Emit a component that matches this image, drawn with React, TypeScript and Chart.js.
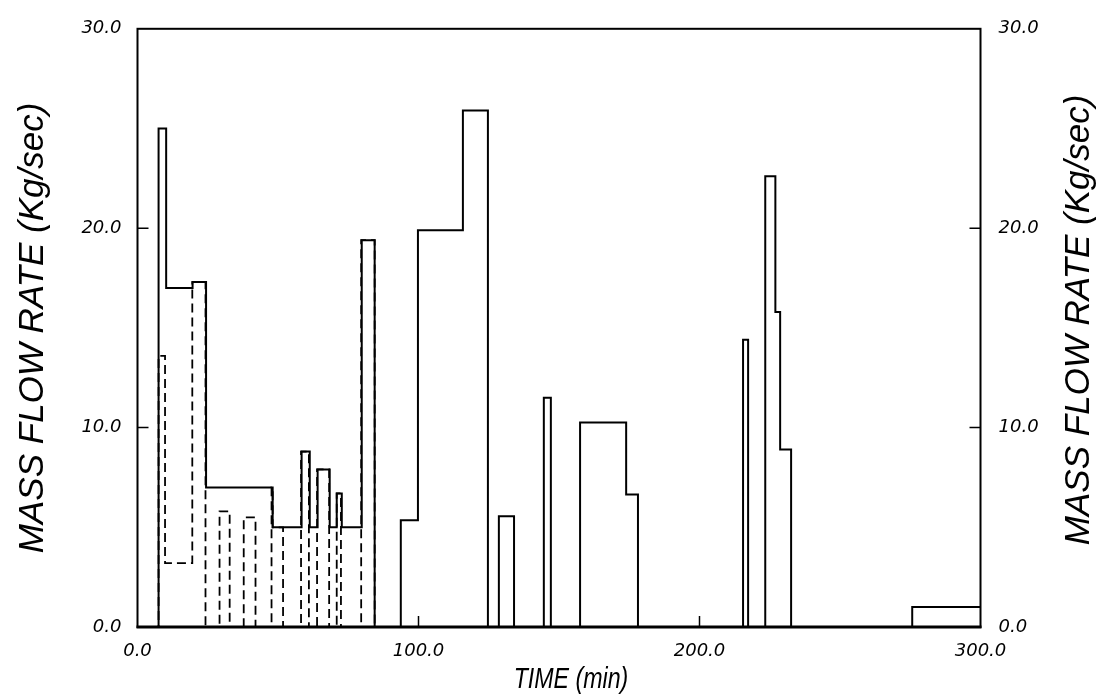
import React, { useEffect, useRef } from "react";
import { Chart, registerables } from "chart.js";

Chart.register(...registerables);

// Solid trace: step starts (min) and flow rate (kg/s) held until the next start
const solidTimes = [0, 7.5, 10.2, 19.6, 24.4, 48.1, 58.4, 61.3, 64.1, 68.4, 70.9, 72.7, 79.8, 84.4, 93.7, 99.8, 115.8, 124.7, 128.6, 134.0, 144.6, 147.1, 157.5, 173.9, 178.1, 215.5, 217.3, 223.4, 227.0, 228.7, 232.6, 275.7, 300];
const solidValues = [0, 25.0, 17.0, 17.3, 7.0, 5.0, 8.8, 5.0, 7.9, 5.0, 6.7, 5.0, 19.4, 0, 5.35, 19.9, 25.9, 0, 5.55, 0, 11.5, 0, 10.25, 6.65, 0, 14.4, 0, 22.6, 15.8, 8.9, 0, 1.0, 1.0];

// Dashed trace
const dashedTimes = [0, 7.5, 9.8, 19.5, 24.2, 29.2, 32.8, 37.8, 42.0, 47.7, 48.1, 51.8, 58.2, 61.0, 63.9, 68.2, 70.9, 72.4, 79.6, 84.4];
const dashedValues = [0, 13.6, 3.2, 17.3, 0, 5.8, 0, 5.5, 0, 7.0, 5.0, 0, 8.8, 0, 7.9, 0, 6.7, 0, 19.4, 0];

const xTicks = [0, 100, 200, 300];
const yTicks = [0, 10, 20, 30];

const xTitle = "TIME (min)";
const yTitle = "MASS FLOW RATE (Kg/sec)";

const tickFont = { family: "'DejaVu Sans', sans-serif", style: "italic" as const, size: 18 };
const titleFamily = "'Liberation Sans', sans-serif";
const yTitleFont = { family: titleFamily, style: "italic" as const, size: 35, lineHeight: 1 };

const framePlugin = {
  id: "frame",
  afterDatasetsDraw(chart: any) {
    const { ctx, chartArea: a, scales } = chart;
    ctx.save();
    ctx.strokeStyle = "#000";
    ctx.lineWidth = 2;
    ctx.strokeRect(a.left, a.top, a.right - a.left, a.bottom - a.top);
    ctx.lineWidth = 3;
    ctx.beginPath();
    ctx.moveTo(a.left - 1, a.bottom);
    ctx.lineTo(a.right + 1, a.bottom);
    ctx.stroke();
    ctx.lineWidth = 1.5;
    yTicks.slice(1, -1).forEach((v) => {
      const y = scales.y.getPixelForValue(v);
      ctx.beginPath();
      ctx.moveTo(a.left, y);
      ctx.lineTo(a.left + 11, y);
      ctx.moveTo(a.right - 11, y);
      ctx.lineTo(a.right, y);
      ctx.stroke();
    });
    xTicks.slice(1, -1).forEach((v) => {
      const x = scales.x.getPixelForValue(v);
      ctx.beginPath();
      ctx.moveTo(x, a.bottom);
      ctx.lineTo(x, a.bottom - 11);
      ctx.stroke();
    });
    ctx.restore();
  },
};

// Titles: right one reads bottom-to-top like the left; x title is condensed like the scan
const titlesPlugin = {
  id: "titles",
  afterDraw(chart: any) {
    const { ctx, chartArea: a, width } = chart;
    ctx.save();
    ctx.fillStyle = "#000";
    ctx.font = `italic ${yTitleFont.size}px ${titleFamily}`;
    ctx.textAlign = "center";
    ctx.textBaseline = "middle";
    ctx.translate(width - 26, (a.top + a.bottom) / 2 - 8);
    ctx.rotate(-Math.PI / 2);
    ctx.fillText(yTitle, 0, 0);
    ctx.restore();

    ctx.save();
    ctx.fillStyle = "#000";
    ctx.font = `italic 29px ${titleFamily}`;
    ctx.textAlign = "center";
    ctx.textBaseline = "middle";
    ctx.translate((a.left + a.right) / 2 + 12, 680);
    ctx.scale(0.8, 1);
    ctx.fillText(xTitle, 0, 0);
    ctx.restore();
  },
};

export default function App() {
  const ref = useRef<HTMLCanvasElement | null>(null);

  useEffect(() => {
    document.body.style.margin = "0";
    const canvas = ref.current;
    if (!canvas) return;

    const solid = solidTimes.map((t, i) => ({ x: t, y: solidValues[i] }));
    const dashed = dashedTimes.map((t, i) => ({ x: t, y: dashedValues[i] }));

    const fmt = (v: any) => Number(v).toFixed(1);

    const chart = new Chart(canvas, {
      type: "line",
      data: {
        datasets: [
          {
            data: solid,
            stepped: "before",
            borderColor: "#000",
            borderWidth: 2,
            pointRadius: 0,
            fill: false,
          },
          {
            data: dashed,
            stepped: "before",
            borderColor: "#000",
            borderWidth: 1.8,
            borderDash: [9, 5],
            pointRadius: 0,
            fill: false,
          },
        ],
      },
      options: {
        responsive: false,
        animation: false,
        events: [],
        layout: { padding: { top: 18, left: 0, right: 0, bottom: 0 } },
        plugins: { legend: { display: false }, tooltip: { enabled: false } },
        scales: {
          x: {
            type: "linear",
            min: 0,
            max: 300,
            grid: { display: false, drawTicks: false },
            border: { display: false },
            afterBuildTicks: (s: any) => {
              s.ticks = xTicks.map((v) => ({ value: v }));
            },
            afterFit: (s: any) => {
              s.height = 71;
            },
            ticks: {
              color: "#000",
              font: tickFont,
              padding: 14,
              maxRotation: 0,
              autoSkip: false,
              callback: fmt,
            },
            title: { display: false },
          },
          y: {
            type: "linear",
            position: "left",
            min: 0,
            max: 30,
            grid: { display: false, drawTicks: false },
            border: { display: false },
            afterBuildTicks: (s: any) => {
              s.ticks = yTicks.map((v) => ({ value: v }));
            },
            afterFit: (s: any) => {
              s.width = 137.5;
            },
            ticks: { color: "#000", font: tickFont, padding: 16, callback: fmt },
            title: {
              display: true,
              text: yTitle,
              color: "#000",
              font: yTitleFont,
              padding: { top: 16, bottom: 0 },
            },
          },
          y2: {
            type: "linear",
            position: "right",
            min: 0,
            max: 30,
            grid: { display: false, drawTicks: false },
            border: { display: false },
            afterBuildTicks: (s: any) => {
              s.ticks = yTicks.map((v) => ({ value: v }));
            },
            afterFit: (s: any) => {
              s.width = 124.5;
            },
            ticks: { color: "#000", font: tickFont, padding: 18, callback: fmt },
            title: { display: false },
          },
        },
      },
      plugins: [framePlugin, titlesPlugin],
    });

    return () => chart.destroy();
  }, []);

  return (
    <div style={{ width: 1105, height: 698, background: "#fff" }}>
      <canvas ref={ref} width={1105} height={698} style={{ display: "block" }} />
    </div>
  );
}
